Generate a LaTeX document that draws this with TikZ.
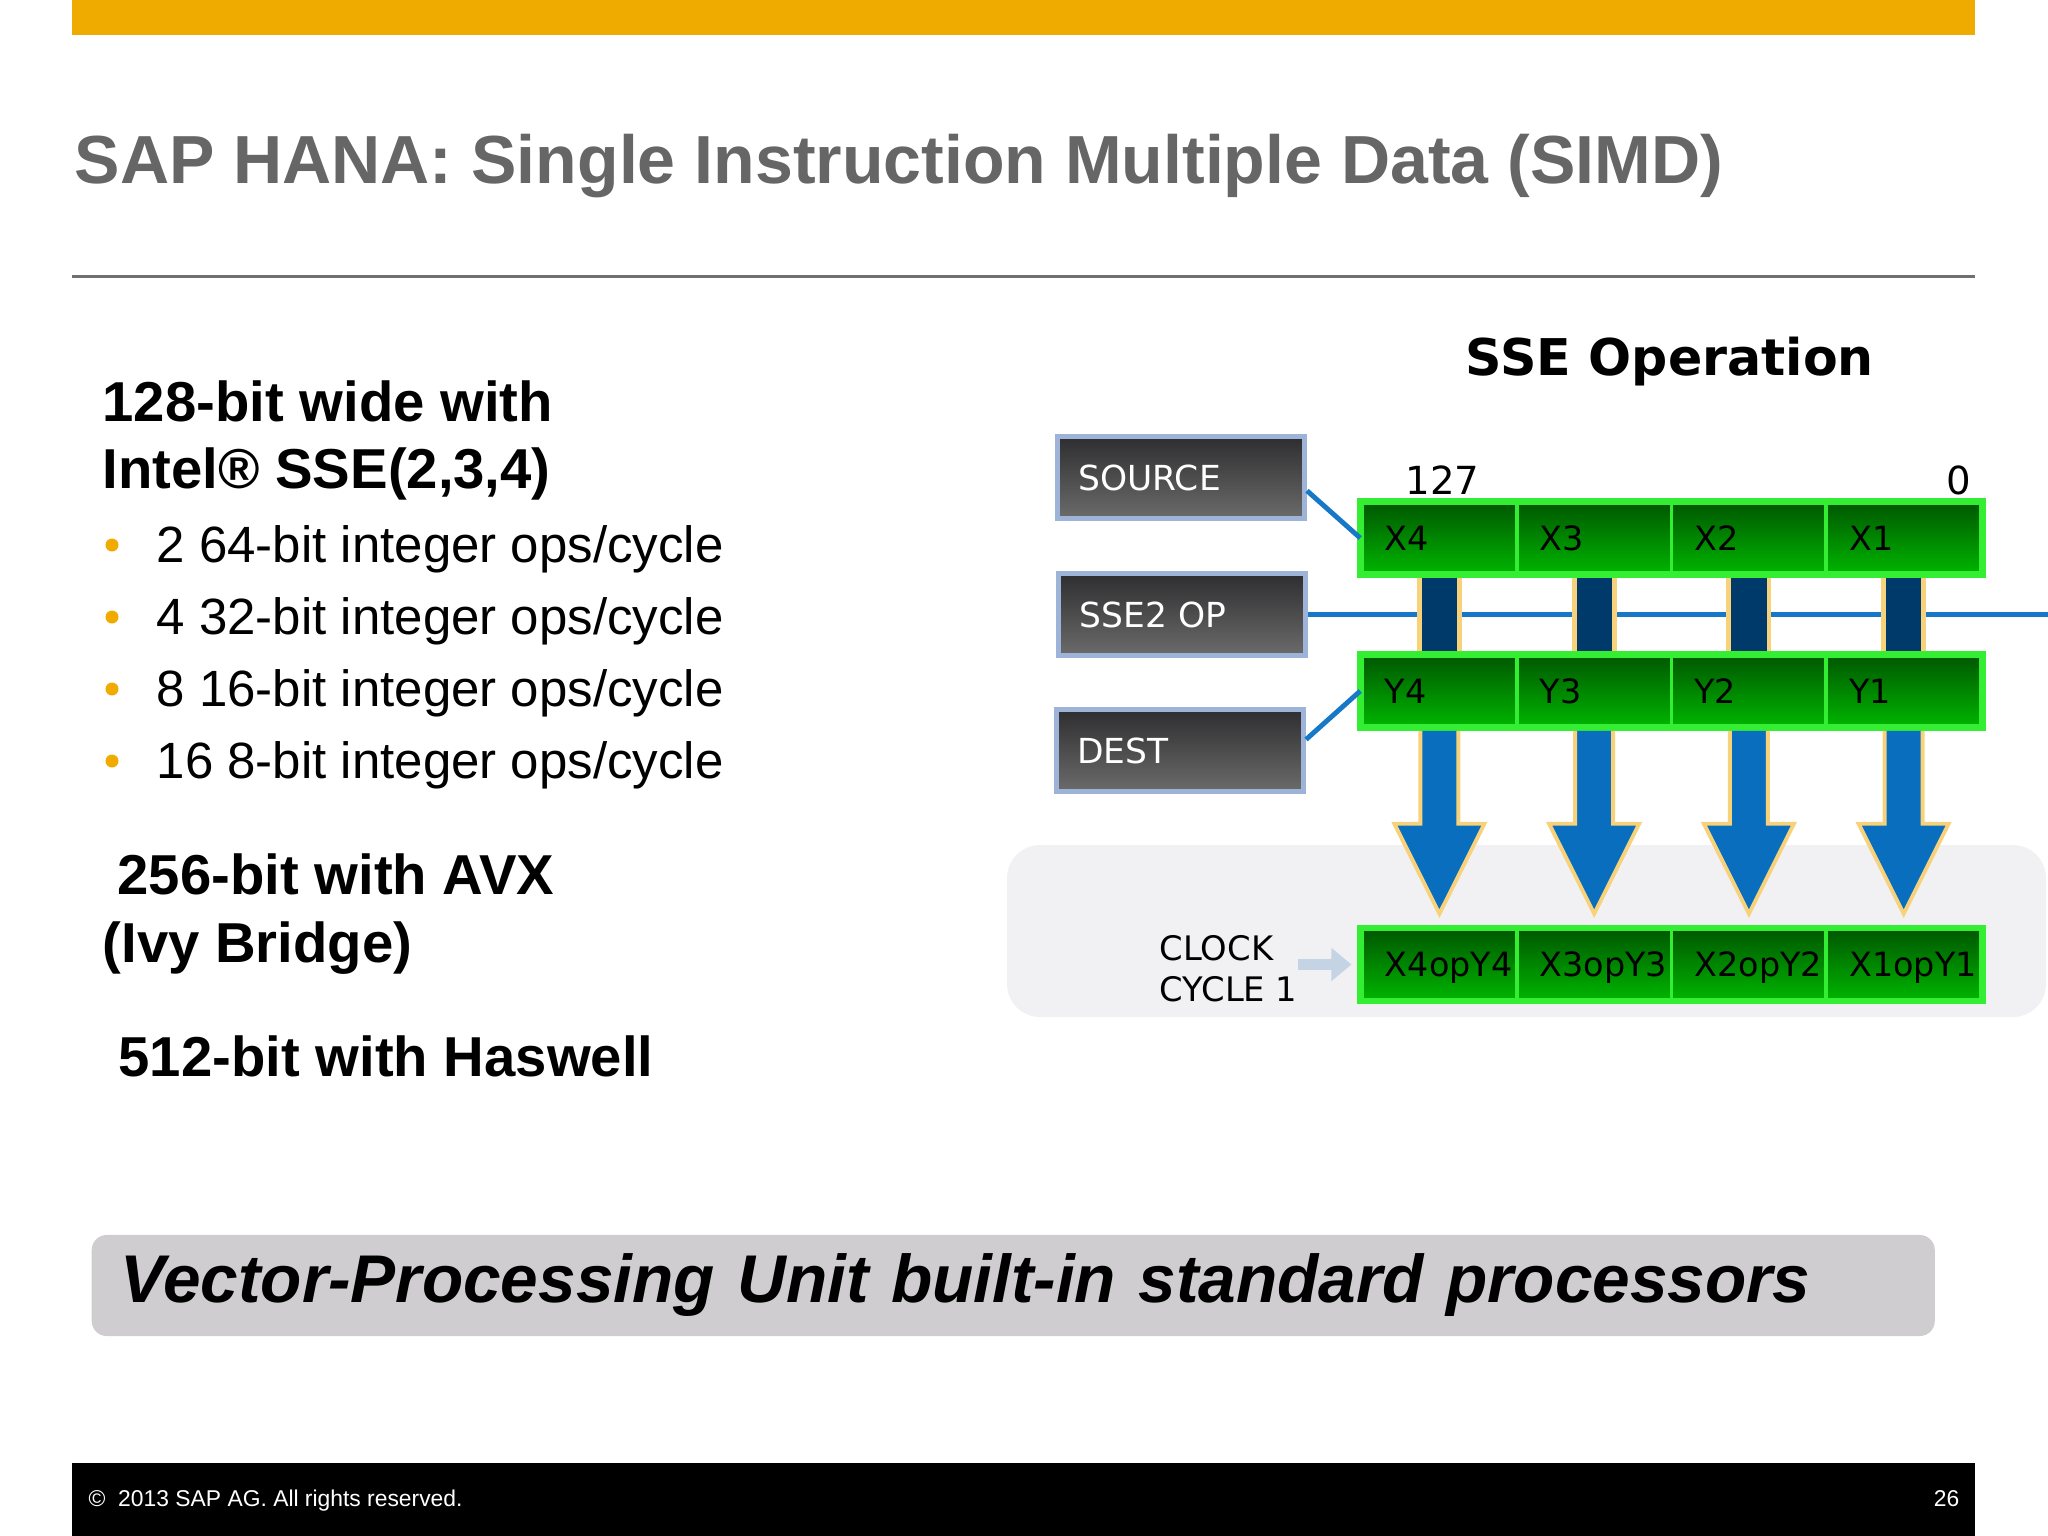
\documentclass[tikz,border=0pt]{standalone}
\usepackage{fontspec}
\setmainfont{Liberation Sans}
\newfontfamily\diagfont{DejaVu Sans}
\usetikzlibrary{calc,arrows.meta,positioning}

\begin{document}
\begin{tikzpicture}[
    % one unit is one pixel of the slide, y grows downwards
    x={(0.01cm,0cm)},
    y={(0cm,-0.01cm)},
    >=Stealth,
    txt/.style={inner sep=0pt, anchor=base west},
    head/.style={txt, font=\bfseries\fontsize{16}{19}\selectfont},
    body/.style={txt, font=\fontsize{14.5}{17}\selectfont},
    regBox/.style={draw=borderBlue, line width=1.4pt, top color=boxTop, bottom color=boxBottom,
        minimum height=0.82cm, text width=2.05cm, inner xsep=0.21cm, inner ysep=0pt,
        align=left, text=white, font=\diagfont\fontsize{9.8}{12}\selectfont},
    cell/.style={draw=cellEdge, line width=1pt, top color=cellTop, bottom color=cellBottom,
        minimum width=1.5475cm, minimum height=0.70cm, inner sep=0pt},
    cellText/.style={inner sep=0pt, text depth=0pt, font=\diagfont\fontsize{9.5}{11}\selectfont},
    rowFrame/.style={draw=cellEdge, line width=1.6pt},
    wire/.style={draw=wireBlue, line width=1.4pt},
    barHalo/.style={draw=barEdge, line width=12.8pt, shorten <=0.8pt, shorten >=0.8pt},
    barCore/.style={draw=barDark, line width=10pt, shorten <=0.8pt, shorten >=0.8pt},
    fatArrow/.style={fill=arrowBlue, draw=barEdge, line width=1.1pt, line join=miter},
    clockArrow/.style={draw=clockBlue, line width=3.4pt, -{Triangle[length=0.2cm, width=0.32cm]},
        shorten >=2.5pt},
    banner/.style={fill=bannerGray, rounded corners=0.15cm, minimum width=18.42cm,
        minimum height=1.01cm, text width=17.84cm, inner xsep=0.29cm, align=left,
        font=\bfseries\itshape\fontsize{19.2}{23}\selectfont},
    ]
    
    % Colors
    \definecolor{sapGold}{HTML}{F0AB00}
    \definecolor{titleGray}{HTML}{666666}
    \definecolor{ruleGray}{HTML}{707070}
    \definecolor{borderBlue}{HTML}{9DB4D8}
    \definecolor{boxTop}{HTML}{2E2E30}
    \definecolor{boxBottom}{HTML}{6B6B6B}
    \definecolor{wireBlue}{HTML}{1878C8}
    \definecolor{cellTop}{HTML}{005800}
    \definecolor{cellBottom}{HTML}{00B400}
    \definecolor{cellEdge}{HTML}{33EE33}
    \definecolor{barDark}{HTML}{003A6A}
    \definecolor{barEdge}{HTML}{F8D27A}
    \definecolor{arrowBlue}{HTML}{0A6EBE}
    \definecolor{panelGray}{HTML}{F1F1F3}
    \definecolor{bannerGray}{HTML}{CFCDCF}
    \definecolor{clockBlue}{HTML}{C4D4E4}
    
    \useasboundingbox (0,0) rectangle (2048,1536);
    
    % Slide frame
    \fill[sapGold] (72,0) rectangle (1975,35);
    \node[txt, text=titleGray, font=\bfseries\fontsize{19.35}{24}\selectfont] (title) at (74,183)
        {SAP HANA: Single Instruction Multiple Data (SIMD)};
    \draw[ruleGray, line width=0.85pt] (72,276) -- (1975,276);
    \fill[black] (72,1463) rectangle (1975,1540);
    \node[txt, text=white, font=\fontsize{6.5}{8}\selectfont] (copy) at (88,1506)
        {\textcopyright\ \ 2013 SAP AG. All rights reserved.};
    \node[txt, anchor=base east, text=white, font=\fontsize{6.5}{8}\selectfont] (pageNo) at (1960,1506) {26};
    
    % Left column
    \node[head] (sseHead) at (102,421) {128-bit wide with};
    \node[head] (sseHeadB) at (102,488) {Intel® SSE(2,3,4)};
    \foreach \t [count=\i from 0] in {2 64-bit integer ops/cycle, 4 32-bit integer ops/cycle,
        8 16-bit integer ops/cycle, 16 8-bit integer ops/cycle} {
        \fill[sapGold] (112,{545+72*\i}) circle (0.065cm);
        \node[body] (bul\i) at (156,{562+72*\i}) {\t};
    }
    \node[head] (avx) at (117,894) {256-bit with AVX};
    \node[head] (ivy) at (102,962) {(Ivy Bridge)};
    \node[head] (haswell) at (118,1076) {512-bit with Haswell};
    
    % Banner
    \node[banner, anchor=west] (vpu) at (91,1285.5) {Vector-Processing Unit built-in standard processors};
    
    % SSE operation
    \fill[panelGray, rounded corners=0.33cm] (1007,845) rectangle (2046,1017);
    \node[anchor=base, inner sep=0pt, font=\diagfont\bfseries\fontsize{14.4}{17}\selectfont] (sseTitle)
        at (1670,375) {SSE Operation};
    
    \node[regBox] (src) at (1181,477.5) {SOURCE};
    \node[regBox] (op) at (1182,614.5) {SSE2 OP};
    \node[regBox] (dest) at (1180,750.5) {DEST};
    
    \coordinate (opEnd) at (2048,614.5);
    \draw[wire] (op.east) -- (opEnd);
    
    \foreach \n [count=\k from 0] in {4,3,2,1} {
        \node[cell] (x\n) at ({1439.4+154.75*\k},538) {};
        \node[cell] (y\n) at ({1439.4+154.75*\k},691) {};
        \node[cell] (r\n) at ({1439.4+154.75*\k},964.5) {};
        \node[cellText, right=0.24cm of x\n.west] (xl\n) {X\n};
        \node[cellText, right=0.24cm of y\n.west] (yl\n) {Y\n};
        \node[cellText, right=0.24cm of r\n.west] (rl\n) {X\n opY\n};
    }
    \draw[rowFrame] (x4.north west) rectangle (x1.south east);
    \draw[rowFrame] (y4.north west) rectangle (y1.south east);
    \draw[rowFrame] (r4.north west) rectangle (r1.south east);
    
    \node[txt, font=\diagfont\fontsize{11}{13}\selectfont] (msb) at (1405,494) {127};
    \node[txt, anchor=base east, font=\diagfont\fontsize{11}{13}\selectfont] (lsb) at (1972,494) {0};
    
    \draw[wire] (src.-6) -- (x4.west);
    \draw[wire] (dest.5) -- (y4.west);
    
    % Lanes
    \foreach \n in {4,3,2,1} {
        \draw[barHalo] (x\n.south) -- (y\n.north);
        \draw[barCore] (x\n.south) -- (y\n.north);
        \filldraw[fatArrow] ($(y\n.south)+(19,3)$) -- ++(0,93) -- ++(26,0)
            -- ($(r\n.north)+(0,-14)$) -- ($(y\n.south)+(-45,96)$) -- ++(26,0) -- ++(0,-93);
    }
    
    % Clock
    \node[anchor=north west, inner sep=0pt, align=left, font=\diagfont\fontsize{9.6}{11.7}\selectfont]
        (clock) at (1159,935) {CLOCK\\CYCLE 1};
    \draw[clockArrow] (clock.east |- r4.west) -- (r4.west);
\end{tikzpicture}
\end{document}
